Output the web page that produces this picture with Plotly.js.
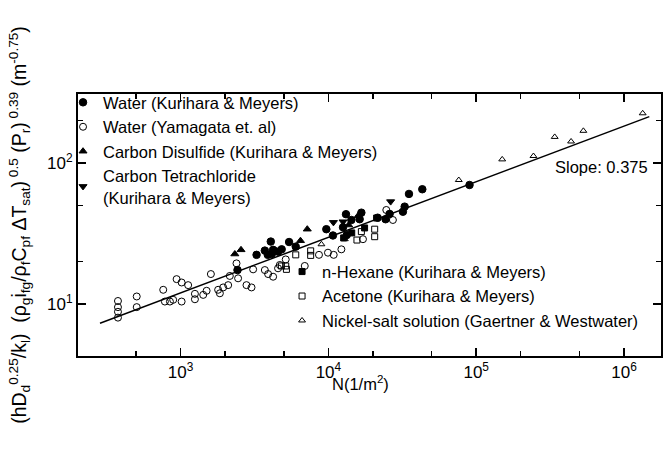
<!DOCTYPE html>
<html>
<head>
<meta charset="utf-8">
<script src="https://cdn.plot.ly/plotly-3.0.1.min.js"></script>
<style>html,body{margin:0;padding:0;background:#fff;}#chart{width:663px;height:463px;}</style>
</head>
<body>
<div id="chart"></div>
<script>
// Water (Kurihara & Meyers) - filled circles
const waterKM_N = [2427, 3266, 3715, 4076, 4226, 4564, 5420, 6012, 9683, 10730, 13150, 12560, 13300, 14300, 16710, 16270, 21530, 24370, 25940, 31920, 32800, 35080, 43170, 90100, 3890, 4140, 4828];
const waterKM_V = [17.4, 22.3, 23.9, 27.7, 24.2, 23.5, 27.5, 25.5, 33.9, 30.6, 43.3, 35.0, 30.8, 39.4, 44.4, 39.9, 40.9, 39.9, 43.5, 45.1, 49.0, 60.3, 65.1, 69.8, 22.3, 22.6, 24.4];
// Water (Yamagata et. al) - open circles
const waterY_N = [377, 377, 377, 377, 505, 505, 763, 783, 847, 891, 940, 1016, 1125, 1016, 1250, 1250, 1422, 1603, 1500, 1795, 1844, 1941, 2098, 2153, 2449, 2791, 3018, 3096, 3715, 3909, 4226, 4564, 5143, 6918, 8635, 9931, 10860, 12240, 17130, 27310, 24640, 2389, 4690];
const waterY_V = [10.5, 9.5, 8.8, 8.0, 11.3, 9.5, 12.6, 10.4, 10.4, 10.7, 15.0, 14.2, 13.6, 10.4, 11.8, 10.8, 11.6, 16.3, 12.4, 12.6, 11.9, 13.1, 13.6, 15.8, 15.2, 13.6, 13.1, 17.6, 17.4, 16.3, 15.6, 17.9, 20.7, 18.6, 22.3, 23.1, 22.3, 24.4, 28.8, 39.4, 46.4, 19.4, 18.9];
// Carbon Disulfide - filled triangles
const cs2_N = [2328, 2563, 6471, 7196, 15850, 13710];
const cs2_V = [22.6, 24.2, 28.1, 33.9, 42.1, 36.3];
// Carbon Tetrachloride - filled inverted triangles
const ccl4_N = [10810, 26360, 12560];
const ccl4_V = [37.9, 53.2, 38.3];
// n-Hexane - filled squares
const hexane_N = [12680, 14380, 17570, 21200, 4266];
const hexane_V = [29.4, 31.9, 34.6, 40.7, 23.8];
// Acetone - open squares
const acetone_N = [4808, 5143, 6012, 7586, 7586, 16710, 20560, 20560, 15600, 5200];
const acetone_V = [18.6, 18.6, 22.3, 23.8, 22.1, 32.6, 33.9, 30.0, 28.4, 17.6];
// Nickel-salt solution - open triangles
const nickel_N = [8970, 12910, 76200, 149900, 243900, 339600, 438200, 530800, 1337000];
const nickel_V = [26.5, 28.8, 75.7, 106, 112, 153, 142, 169, 225];
// Correlation line (slope 0.375) end points
const fit_N = [285, 1482000];
const fit_V = [7.3, 213];

const xTickVals = [1e3, 1e4, 1e5, 1e6];
const xTickText = ['10<sup>3</sup>', '10<sup>4</sup>', '10<sup>5</sup>', '10<sup>6</sup>'];
const xMinor = [500, 2000, 5000, 20000, 50000, 200000, 500000];
const yTickVals = [10, 100];
const yTickText = ['10<sup>1</sup>', '10<sup>2</sup>'];
const yMinor = [20, 50, 200];

const FONT = '"Liberation Sans", Arial, sans-serif';

function sc(name, xs, ys, symbol, size, legend, group) {
  return {
    x: xs, y: ys, type: 'scatter', mode: 'markers', name: name,
    legend: legend, legendgroup: group,
    marker: {symbol: symbol, size: size, color: '#000', line: {color: '#000', width: 1}},
    cliponaxis: false
  };
}

const data = [
  {x: fit_N, y: fit_V, type: 'scatter', mode: 'lines', line: {color: '#000', width: 1.5}, showlegend: false, hoverinfo: 'skip'},
  sc('Water (Kurihara & Meyers)', waterKM_N, waterKM_V, 'circle', 7.5, 'legend', 'a'),
  sc('Water (Yamagata et. al)', waterY_N, waterY_V, 'circle-open', 7, 'legend', 'b'),
  sc('Carbon Disulfide (Kurihara & Meyers)', cs2_N, cs2_V, 'triangle-up', 7, 'legend', 'c'),
  sc('Carbon Tetrachloride<br>(Kurihara & Meyers)', ccl4_N, ccl4_V, 'triangle-down', 7, 'legend', 'd'),
  sc('n-Hexane (Kurihara & Meyers)', hexane_N, hexane_V, 'square', 6, 'legend2', 'e'),
  sc('Acetone (Kurihara & Meyers)', acetone_N, acetone_V, 'square-open', 6, 'legend2', 'f'),
  sc('Nickel-salt solution (Gaertner & Westwater)', nickel_N, nickel_V, 'triangle-up-open', 6, 'legend2', 'g')
];

const axisCommon = {
  type: 'log', showgrid: false, zeroline: false, automargin: false,
  showline: true, linecolor: '#000', linewidth: 2, mirror: 'ticks',
  ticks: 'inside', ticklen: 8, tickwidth: 1.5, tickcolor: '#000',
  tickfont: {family: FONT, size: 17, color: '#000'}
};

const layout = {
  width: 663, height: 463,
  margin: {l: 78, r: 2, t: 94, b: 107, autoexpand: false},
  paper_bgcolor: '#fff', plot_bgcolor: '#fff',
  font: {family: FONT, color: '#000'},
  xaxis: Object.assign({}, axisCommon, {
    range: [2.306, 6.25],
    tickmode: 'array', tickvals: xTickVals, ticktext: xTickText,
    minor: {tickmode: 'array', tickvals: xMinor, ticks: 'inside', ticklen: 5, tickwidth: 1.5, tickcolor: '#000'}
  }),
  yaxis: Object.assign({}, axisCommon, {
    range: [0.631, 2.489],
    tickmode: 'array', tickvals: yTickVals, ticktext: yTickText,
    minor: {tickmode: 'array', tickvals: yMinor, ticks: 'inside', ticklen: 5, tickwidth: 1.5, tickcolor: '#000'},
    title: {
      text: '(hD<sub>d</sub><sup>0.25</sup>/k<sub>l</sub>)  (ρ<sub>g</sub>i<sub>fg</sub>/ρ<sub>f</sub>C<sub>pf</sub> ΔT<sub>sat</sub>)<sup> 0.5</sup> (P<sub>r</sub>)<sup> 0.39</sup> (m<sup>-0.75</sup>)',
      font: {family: FONT, size: 19.5, color: '#000'}, standoff: 15
    }
  }),
  legend: {
    x: -0.0257, y: 1.034, xanchor: 'left', yanchor: 'top',
    bgcolor: 'rgba(0,0,0,0)', borderwidth: 0,
    font: {family: FONT, size: 16.5, color: '#000'},
    itemwidth: 30, tracegroupgap: 0, traceorder: 'normal'
  },
  legend2: {
    x: 0.35, y: 0.388, xanchor: 'left', yanchor: 'top',
    bgcolor: 'rgba(0,0,0,0)', borderwidth: 0,
    font: {family: FONT, size: 16.5, color: '#000'},
    itemwidth: 30, tracegroupgap: 0, traceorder: 'normal'
  },
  annotations: [
    {xref: 'paper', yref: 'paper', x: 0.981, y: 0.721, xanchor: 'right', yanchor: 'middle',
     text: 'Slope: 0.375', showarrow: false, font: {family: FONT, size: 16.5, color: '#000'}},
    {xref: 'paper', yref: 'paper', x: 0.485, y: -0.103, xanchor: 'center', yanchor: 'middle',
     text: 'N(1/m<sup>2</sup>)', showarrow: false, font: {family: FONT, size: 16.5, color: '#000'}}
  ],
  showlegend: true
};

Plotly.newPlot('chart', data, layout, {displayModeBar: false, staticPlot: true});
</script>
</body>
</html>
